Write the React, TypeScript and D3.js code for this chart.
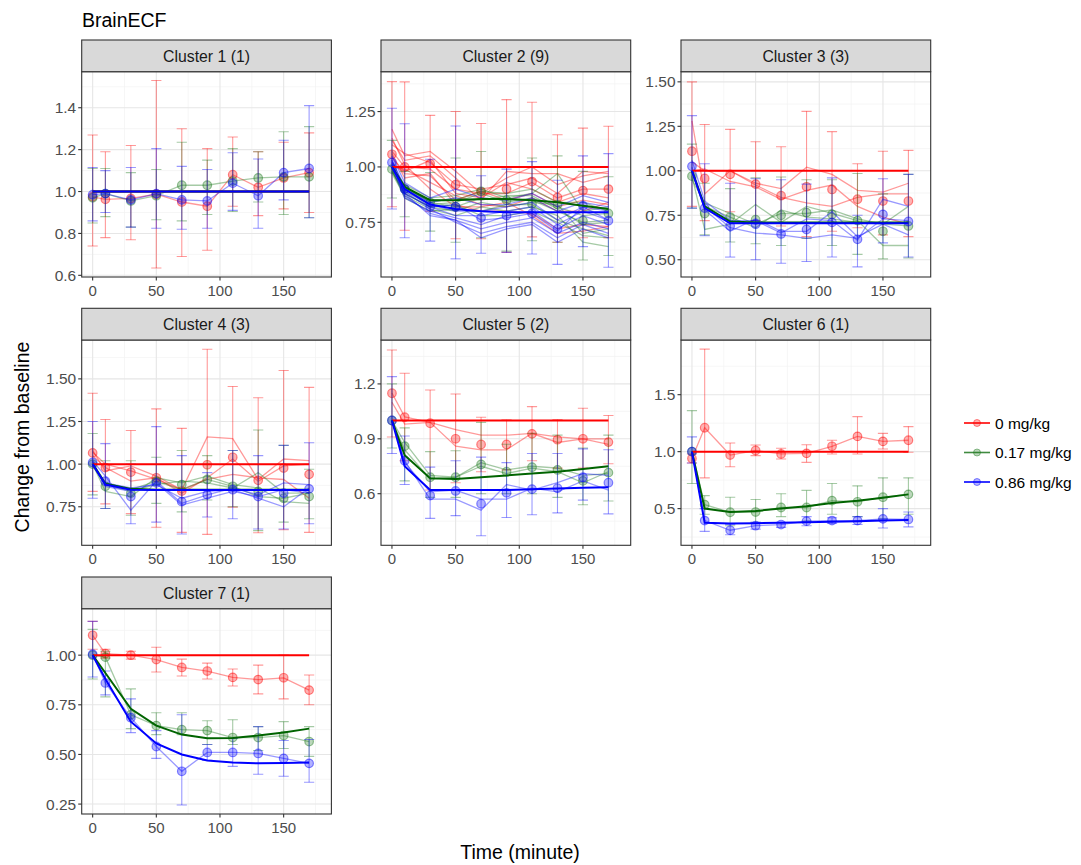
import React from "react";
import * as d3 from "d3";

// ---------------- DATA ----------------
const times = [0, 10, 30, 50, 70, 90, 110, 130, 150, 170];
const doses = ["0 mg/kg", "0.17 mg/kg", "0.86 mg/kg"];
const clusterTitles = [
  "Cluster 1 (1)", "Cluster 2 (9)", "Cluster 3 (3)", "Cluster 4 (3)",
  "Cluster 5 (2)", "Cluster 6 (1)", "Cluster 7 (1)",
];
const xTicks = [0, 50, 100, 150];
const xDomain = [-8.6, 187.5];

const yDomains = [
  [0.592, 1.572], [0.503, 1.43], [0.403, 1.557], [0.524, 1.728],
  [0.318, 1.44], [0.178, 1.98], [0.2, 1.234],
];
const yTicks = [
  [0.6, 0.8, 1.0, 1.2, 1.4],
  [0.75, 1.0, 1.25],
  [0.5, 0.75, 1.0, 1.25, 1.5],
  [0.75, 1.0, 1.25, 1.5],
  [0.6, 0.9, 1.2],
  [0.5, 1.0, 1.5],
  [0.25, 0.5, 0.75, 1.0],
];
const yDecimals = [1, 2, 2, 2, 1, 1, 2];

// Cluster 1 (rows: 0, 0.17, 0.86 mg/kg)
const c1Mean = [
  [0.975, 0.963, 0.967, 0.987, 0.95, 0.93, 1.08, 1.02, 1.065, 1.09],
  [0.97, 0.99, 0.955, 0.98, 1.03, 1.03, 1.05, 1.065, 1.07, 1.07],
  [0.985, 0.99, 0.96, 0.99, 0.96, 0.955, 1.04, 0.98, 1.09, 1.11],
];
const c1Lo = [
  [0.74, 0.78, 0.77, 0.635, 0.69, 0.72, 0.93, 0.885, 0.917, 0.9],
  [0.85, 0.88, 0.83, 0.865, 0.86, 0.89, 0.905, 0.95, 0.89, 0.875],
  [0.86, 0.9, 0.83, 0.825, 0.82, 0.825, 0.91, 0.825, 0.96, 0.875],
];
const c1Hi = [
  [1.27, 1.19, 1.22, 1.53, 1.3, 1.205, 1.26, 1.19, 1.235, 1.28],
  [1.11, 1.11, 1.09, 1.105, 1.235, 1.15, 1.205, 1.19, 1.285, 1.31],
  [1.115, 1.1, 1.115, 1.205, 1.12, 1.105, 1.185, 1.155, 1.245, 1.41],
];
const c1Lines = [[c1Mean[0]], [c1Mean[1]], [c1Mean[2]]];
const c1Fit = [
  [1, 1, 1, 1, 1, 1, 1, 1, 1, 1],
  [1, 1, 1, 1, 1, 1, 1, 1, 1, 1],
  [1, 1, 1, 1, 1, 1, 1, 1, 1, 1],
];

// Cluster 2
const c2Mean = [
  [1.057, 1.0, 1.015, 0.92, 0.887, 0.9, 0.934, 0.862, 0.893, 0.9],
  [0.99, 0.9, 0.84, 0.82, 0.89, 0.85, 0.833, 0.83, 0.757, 0.79],
  [1.02, 0.9, 0.82, 0.82, 0.77, 0.78, 0.79, 0.72, 0.825, 0.757],
];
const c2Lo = [
  [0.82, 0.714, 0.8, 0.676, 0.676, 0.614, 0.684, 0.66, 0.68, 0.68],
  [0.86, 0.775, 0.71, 0.66, 0.68, 0.62, 0.667, 0.66, 0.58, 0.6],
  [0.81, 0.68, 0.665, 0.585, 0.61, 0.614, 0.607, 0.56, 0.64, 0.547],
];
const c2Hi = [
  [1.385, 1.384, 1.233, 1.25, 1.196, 1.304, 1.292, 1.145, 1.175, 1.184],
  [1.12, 0.98, 0.975, 1.04, 1.07, 1.0, 1.04, 1.05, 0.98, 0.956],
  [1.265, 1.195, 1.035, 1.185, 0.96, 0.99, 1.024, 0.94, 1.05, 1.06],
];
const c2Lines = [
  [
    [1.17, 1.05, 1.07, 0.98, 0.88, 0.95, 1.0, 0.92, 0.96, 0.98],
    [1.12, 1.03, 1.05, 0.95, 0.85, 0.98, 0.97, 0.97, 0.93, 0.96],
    [1.1, 1.06, 1.02, 0.92, 0.9, 0.92, 0.95, 0.88, 0.98, 0.97],
    [1.07, 1.0, 0.99, 0.9, 0.88, 0.88, 0.93, 0.86, 0.9, 0.9],
    [1.04, 0.98, 1.03, 0.88, 0.86, 0.93, 0.9, 0.84, 0.88, 0.86],
    [1.02, 0.97, 0.96, 0.85, 0.89, 0.85, 0.88, 0.82, 0.85, 0.83],
    [1.0, 0.99, 0.93, 0.87, 0.83, 0.82, 0.86, 0.8, 0.8, 0.84],
    [1.06, 0.95, 0.97, 0.83, 0.8, 0.8, 0.79, 0.72, 0.74, 0.73],
    [1.13, 1.01, 0.9, 0.82, 0.82, 0.84, 0.78, 0.7, 0.71, 0.73],
  ],
  [
    [1.0, 0.92, 0.86, 0.87, 0.9, 0.86, 0.88, 0.97, 0.8, 0.82],
    [0.99, 0.9, 0.85, 0.85, 0.89, 0.88, 0.9, 0.84, 0.84, 0.8],
    [0.98, 0.89, 0.83, 0.84, 0.88, 0.84, 0.86, 0.82, 0.78, 0.79],
    [0.99, 0.91, 0.84, 0.82, 0.86, 0.85, 0.85, 0.8, 0.75, 0.76],
    [0.98, 0.88, 0.82, 0.8, 0.84, 0.82, 0.84, 0.83, 0.7, 0.72],
    [0.97, 0.87, 0.81, 0.78, 0.82, 0.8, 0.82, 0.78, 0.66, 0.64],
    [0.99, 0.86, 0.8, 0.81, 0.8, 0.83, 0.83, 0.76, 0.72, 0.69],
    [0.98, 0.88, 0.82, 0.83, 0.78, 0.78, 0.8, 0.75, 0.69, 0.68],
    [1.0, 0.9, 0.84, 0.86, 0.85, 0.87, 0.87, 0.81, 0.74, 0.75],
  ],
  [
    [1.05, 0.93, 0.86, 0.9, 0.86, 0.85, 0.88, 0.82, 0.87, 0.84],
    [1.03, 0.91, 0.84, 0.86, 0.83, 0.83, 0.86, 0.8, 0.84, 0.82],
    [1.02, 0.9, 0.83, 0.8, 0.8, 0.82, 0.84, 0.76, 0.82, 0.8],
    [1.01, 0.88, 0.82, 0.78, 0.78, 0.8, 0.82, 0.74, 0.8, 0.76],
    [1.0, 0.86, 0.8, 0.77, 0.74, 0.78, 0.8, 0.72, 0.78, 0.74],
    [1.02, 0.87, 0.79, 0.76, 0.72, 0.75, 0.77, 0.7, 0.75, 0.72],
    [1.01, 0.89, 0.81, 0.75, 0.7, 0.73, 0.75, 0.68, 0.74, 0.7],
    [1.0, 0.88, 0.78, 0.76, 0.68, 0.72, 0.74, 0.66, 0.72, 0.68],
    [1.03, 0.9, 0.82, 0.83, 0.76, 0.77, 0.79, 0.71, 0.82, 0.76],
  ],
];
const c2Fit = [
  [1, 1, 1, 1, 1, 1, 1, 1, 1, 1],
  [1.0, 0.91, 0.85, 0.85, 0.855, 0.855, 0.85, 0.84, 0.825, 0.81],
  [1.0, 0.9, 0.83, 0.81, 0.8, 0.795, 0.795, 0.795, 0.795, 0.795],
];

// Cluster 3
const c3Mean = [
  [1.11, 0.957, 0.98, 0.925, 0.86, 0.91, 0.895, 0.84, 0.83, 0.83],
  [0.97, 0.76, 0.74, 0.725, 0.75, 0.765, 0.755, 0.72, 0.66, 0.69],
  [1.025, 0.79, 0.69, 0.7, 0.645, 0.67, 0.71, 0.615, 0.755, 0.715],
];
const c3Lo = [
  [0.8, 0.72, 0.77, 0.72, 0.69, 0.63, 0.66, 0.68, 0.64, 0.63],
  [0.79, 0.64, 0.6, 0.59, 0.58, 0.62, 0.58, 0.53, 0.505, 0.51],
  [0.79, 0.635, 0.515, 0.5, 0.48, 0.49, 0.515, 0.46, 0.595, 0.515],
];
const c3Hi = [
  [1.5, 1.26, 1.233, 1.163, 1.135, 1.334, 1.22, 1.04, 1.11, 1.115],
  [1.15, 0.93, 0.9, 0.96, 0.965, 0.95, 0.95, 0.985, 0.87, 0.98],
  [1.31, 1.04, 0.93, 0.955, 0.95, 0.925, 0.96, 0.75, 0.955, 0.98],
];
const c3Lines = [
  [
    [1.28, 0.87, 1.0, 0.93, 0.9, 1.02, 0.98, 0.89, 0.88, 0.93],
    [1.05, 1.0, 1.0, 0.92, 0.85, 0.82, 0.8, 0.85, 0.87, 0.87],
    [1.0, 1.01, 0.94, 0.91, 0.84, 0.89, 0.92, 0.8, 0.74, 0.7],
  ],
  [
    [0.97, 0.67, 0.7, 0.81, 0.71, 0.8, 0.76, 0.72, 0.58, 0.58],
    [0.95, 0.82, 0.76, 0.7, 0.76, 0.76, 0.78, 0.73, 0.7, 0.8],
    [1.0, 0.8, 0.74, 0.68, 0.78, 0.74, 0.73, 0.71, 0.7, 0.69],
  ],
  [
    [1.06, 0.83, 0.72, 0.72, 0.65, 0.73, 0.72, 0.61, 0.84, 0.8],
    [1.02, 0.8, 0.68, 0.65, 0.64, 0.62, 0.64, 0.62, 0.73, 0.72],
    [1.0, 0.78, 0.66, 0.73, 0.66, 0.66, 0.77, 0.63, 0.7, 0.64],
  ],
];
const c3Fit = [
  [1, 1, 1, 1, 1, 1, 1, 1, 1, 1],
  [1.0, 0.8, 0.715, 0.71, 0.71, 0.71, 0.71, 0.71, 0.71, 0.71],
  [1.0, 0.79, 0.705, 0.705, 0.705, 0.705, 0.705, 0.705, 0.705, 0.705],
];

// Cluster 4
const c4Mean = [
  [1.066, 0.98, 0.953, 0.92, 0.842, 0.996, 1.04, 0.905, 0.977, 0.94],
  [1.0, 0.87, 0.83, 0.9, 0.88, 0.91, 0.87, 0.84, 0.8, 0.81],
  [1.01, 0.9, 0.81, 0.89, 0.78, 0.82, 0.85, 0.81, 0.83, 0.855],
];
const c4Lo = [
  [0.84, 0.767, 0.71, 0.63, 0.6, 0.588, 0.748, 0.598, 0.615, 0.6],
  [0.82, 0.74, 0.7, 0.77, 0.72, 0.79, 0.75, 0.61, 0.66, 0.68],
  [0.8, 0.74, 0.65, 0.66, 0.59, 0.69, 0.68, 0.62, 0.62, 0.65],
];
const c4Hi = [
  [1.416, 1.262, 1.197, 1.324, 1.21, 1.674, 1.455, 1.389, 1.549, 1.45],
  [1.18, 1.02, 1.02, 1.04, 1.08, 1.05, 1.08, 1.2, 1.11, 0.97],
  [1.25, 1.12, 1.0, 1.22, 1.05, 0.95, 1.08, 1.05, 1.11, 1.125],
];
const c4Lines = [
  [
    [1.07, 1.0, 0.96, 0.91, 0.85, 1.16, 1.15, 0.91, 1.03, 1.02],
    [1.05, 0.98, 0.9, 0.92, 0.83, 0.92, 1.03, 0.9, 0.99, 1.0],
    [1.08, 0.96, 0.99, 0.93, 0.85, 0.91, 0.94, 0.92, 0.91, 0.8],
  ],
  [
    [1.0, 0.84, 0.81, 0.92, 0.89, 0.93, 0.88, 0.86, 0.78, 0.77],
    [0.99, 0.88, 0.84, 0.88, 0.9, 0.89, 0.86, 0.95, 0.83, 0.83],
    [1.01, 0.89, 0.85, 0.9, 0.85, 0.91, 0.87, 0.81, 0.8, 0.83],
  ],
  [
    [1.02, 0.93, 0.73, 0.9, 0.77, 0.82, 0.86, 0.82, 0.89, 0.88],
    [1.0, 0.89, 0.86, 0.88, 0.8, 0.84, 0.85, 0.8, 0.75, 0.86],
    [1.01, 0.87, 0.84, 0.89, 0.76, 0.8, 0.84, 0.81, 0.85, 0.83],
  ],
];
const c4Fit = [
  [1, 1, 1, 1, 1, 1, 1, 1, 1, 1],
  [1.0, 0.885, 0.855, 0.85, 0.85, 0.85, 0.85, 0.85, 0.85, 0.85],
  [1.0, 0.88, 0.85, 0.848, 0.848, 0.848, 0.848, 0.848, 0.848, 0.848],
];

// Cluster 5
const c5Mean = [
  [1.149, 1.018, 0.985, 0.9, 0.869, 0.869, 0.927, 0.895, 0.9, 0.882],
  [1.0, 0.86, 0.69, 0.69, 0.76, 0.72, 0.745, 0.73, 0.67, 0.715],
  [1.0, 0.78, 0.59, 0.615, 0.545, 0.605, 0.625, 0.63, 0.69, 0.66],
];
const c5Lo = [
  [0.91, 0.78, 0.62, 0.66, 0.72, 0.73, 0.78, 0.74, 0.74, 0.764],
  [0.85, 0.67, 0.58, 0.58, 0.6, 0.6, 0.6, 0.58, 0.54, 0.56],
  [0.82, 0.65, 0.465, 0.48, 0.37, 0.47, 0.485, 0.495, 0.565, 0.49],
];
const c5Hi = [
  [1.385, 1.258, 1.167, 1.145, 1.018, 1.004, 1.076, 1.005, 1.067, 1.027],
  [1.2, 0.96, 0.83, 0.835, 0.99, 0.87, 0.93, 0.92, 0.85, 0.92],
  [1.24, 0.915, 0.745, 0.78, 0.8, 0.77, 0.82, 0.82, 0.845, 0.84],
];
const c5Lines = [
  [
    [1.15, 1.02, 0.99, 0.95, 0.92, 0.92, 0.93, 0.91, 0.9, 0.9],
    [1.1, 0.98, 0.99, 0.86, 0.84, 0.84, 0.93, 0.88, 0.9, 0.87],
  ],
  [
    [1.0, 0.88, 0.7, 0.69, 0.77, 0.73, 0.75, 0.74, 0.7, 0.71],
    [1.0, 0.84, 0.68, 0.69, 0.75, 0.71, 0.74, 0.72, 0.66, 0.72],
  ],
  [
    [1.0, 0.78, 0.57, 0.57, 0.51, 0.65, 0.62, 0.66, 0.71, 0.7],
    [1.0, 0.77, 0.61, 0.62, 0.57, 0.57, 0.63, 0.61, 0.67, 0.62],
  ],
];
const c5Fit = [
  [1, 1, 1, 1, 1, 1, 1, 1, 1, 1],
  [1.0, 0.81, 0.685, 0.68, 0.69, 0.7, 0.71, 0.72, 0.735, 0.75],
  [1.0, 0.75, 0.62, 0.62, 0.62, 0.62, 0.625, 0.628, 0.632, 0.635],
];

// Cluster 6
const c6Mean = [
  [0.94, 1.21, 0.97, 1.01, 0.98, 0.985, 1.047, 1.134, 1.09, 1.1],
  [1.0, 0.535, 0.468, 0.47, 0.51, 0.51, 0.57, 0.56, 0.6, 0.625],
  [1.0, 0.395, 0.31, 0.35, 0.36, 0.39, 0.395, 0.395, 0.41, 0.405],
];
const c6Lo = [
  [0.9, 0.77, 0.868, 0.965, 0.936, 0.906, 0.98, 0.98, 1.023, 0.995],
  [0.72, 0.45, 0.35, 0.38, 0.43, 0.39, 0.45, 0.43, 0.41, 0.45],
  [0.9, 0.3, 0.27, 0.32, 0.335, 0.35, 0.37, 0.36, 0.33, 0.34],
];
const c6Hi = [
  [0.98, 1.9, 1.076, 1.058, 1.03, 1.06, 1.1, 1.307, 1.16, 1.22],
  [1.36, 0.614, 0.6, 0.58, 0.63, 0.66, 0.72, 0.7, 0.77, 0.77],
  [1.13, 0.5, 0.36, 0.38, 0.38, 0.43, 0.42, 0.43, 0.5, 0.47],
];
const c6Lines = [[c6Mean[0]], [c6Mean[1]], [c6Mean[2]]];
const c6Fit = [
  [1, 1, 1, 1, 1, 1, 1, 1, 1, 1],
  [1.0, 0.5, 0.47, 0.48, 0.5, 0.52, 0.55, 0.57, 0.595, 0.625],
  [1.0, 0.375, 0.37, 0.372, 0.375, 0.38, 0.385, 0.39, 0.395, 0.4],
];

// Cluster 7
const c7Mean = [
  [1.1, 1.008, 1.0, 0.978, 0.938, 0.92, 0.888, 0.877, 0.886, 0.824],
  [1.0, 0.99, 0.7, 0.645, 0.625, 0.62, 0.585, 0.585, 0.595, 0.565],
  [1.005, 0.86, 0.685, 0.54, 0.415, 0.51, 0.51, 0.505, 0.48, 0.455],
];
const c7Lo = [
  [1.03, 0.985, 0.98, 0.915, 0.895, 0.88, 0.845, 0.805, 0.78, 0.75],
  [0.88, 0.79, 0.63, 0.6, 0.6, 0.55, 0.55, 0.52, 0.53, 0.49],
  [0.89, 0.8, 0.61, 0.48, 0.245, 0.47, 0.44, 0.4, 0.39, 0.36],
];
const c7Hi = [
  [1.17, 1.03, 1.02, 1.04, 0.98, 0.96, 0.93, 0.95, 1.0, 0.9],
  [1.13, 1.02, 0.83, 0.71, 0.71, 0.67, 0.675, 0.64, 0.665, 0.64],
  [1.17, 0.92, 0.78, 0.62, 0.7, 0.55, 0.58, 0.64, 0.57, 0.575],
];
const c7Lines = [[c7Mean[0]], [c7Mean[1]], [c7Mean[2]]];
const c7Fit = [
  [1, 1, 1, 1, 1, 1, 1, 1, 1, 1],
  [1.0, 0.91, 0.73, 0.645, 0.6, 0.582, 0.583, 0.595, 0.61, 0.63],
  [1.0, 0.88, 0.665, 0.555, 0.5, 0.47, 0.46, 0.455, 0.457, 0.46],
];

const clusterMeans = [c1Mean, c2Mean, c3Mean, c4Mean, c5Mean, c6Mean, c7Mean];
const clusterLo = [c1Lo, c2Lo, c3Lo, c4Lo, c5Lo, c6Lo, c7Lo];
const clusterHi = [c1Hi, c2Hi, c3Hi, c4Hi, c5Hi, c6Hi, c7Hi];
const clusterLines = [c1Lines, c2Lines, c3Lines, c4Lines, c5Lines, c6Lines, c7Lines];
const clusterFits = [c1Fit, c2Fit, c3Fit, c4Fit, c5Fit, c6Fit, c7Fit];

// ---------------- STYLE / LAYOUT ----------------
const FONT = "'Liberation Sans', Arial, Helvetica, sans-serif";
const faintColors = ["#FF0000", "#1E7B1E", "#0000FF"];
const fitColors = ["#FF0000", "#006400", "#0000FF"];
const colX = [81.7, 381, 681];
const rowTop = [40, 308.3, 577];
const panelW = 249.7;
const stripH = 31.7;
const plotH = 205.3;

function Panel({ idx }: { idx: number }) {
  const col = idx % 3;
  const row = Math.floor(idx / 3);
  const x0 = colX[col];
  const sTop = rowTop[row];
  const pTop = sTop + stripH;
  const pBot = pTop + plotH;
  const x = d3.scaleLinear().domain(xDomain).range([x0, x0 + panelW]);
  const y = d3.scaleLinear().domain(yDomains[idx]).range([pBot, pTop]);
  const ticks = yTicks[idx];
  const step = ticks[1] - ticks[0];
  const yMinor: number[] = [];
  for (let v = ticks[0] - step / 2; v <= yDomains[idx][1]; v += step) {
    if (v >= yDomains[idx][0]) yMinor.push(v);
  }
  const xMinor = [25, 75, 125, 175];
  const line = d3
    .line<number>()
    .x((_, i) => x(times[i]))
    .y((d) => y(d));
  const clipId = `clip${idx}`;
  const fmt = d3.format(`.${yDecimals[idx]}f`);
  const means = clusterMeans[idx];
  const lo = clusterLo[idx];
  const hi = clusterHi[idx];
  const lines = clusterLines[idx];
  const fits = clusterFits[idx];
  const capHalf = 4;

  return (
    <g>
      <defs>
        <clipPath id={clipId}>
          <rect x={x0} y={pTop} width={panelW} height={plotH} />
        </clipPath>
      </defs>
      <rect x={x0} y={pTop} width={panelW} height={plotH} fill="#fff" />
      {yMinor.map((v, i) => (
        <line key={"ym" + i} x1={x0} x2={x0 + panelW} y1={y(v)} y2={y(v)} stroke="#f2f2f2" strokeWidth={0.7} />
      ))}
      {xMinor.map((v, i) => (
        <line key={"xm" + i} x1={x(v)} x2={x(v)} y1={pTop} y2={pBot} stroke="#f2f2f2" strokeWidth={0.7} />
      ))}
      {ticks.map((v, i) => (
        <line key={"yM" + i} x1={x0} x2={x0 + panelW} y1={y(v)} y2={y(v)} stroke="#e6e6e6" strokeWidth={1.1} />
      ))}
      {xTicks.map((v, i) => (
        <line key={"xM" + i} x1={x(v)} x2={x(v)} y1={pTop} y2={pBot} stroke="#e6e6e6" strokeWidth={1.1} />
      ))}
      <g clipPath={`url(#${clipId})`}>
        {[0, 1, 2].map((d) => (
          <g key={"d" + d} stroke={faintColors[d]} strokeOpacity={0.4} fill="none">
            {lines[d].map((ln, j) => (
              <path key={"l" + j} d={line(ln) || ""} strokeWidth={1.3} />
            ))}
            {times.map((t, i) => (
              <g key={"e" + i} strokeWidth={1.1}>
                <line x1={x(t)} x2={x(t)} y1={y(lo[d][i])} y2={y(hi[d][i])} />
                <line x1={x(t - capHalf)} x2={x(t + capHalf)} y1={y(lo[d][i])} y2={y(lo[d][i])} />
                <line x1={x(t - capHalf)} x2={x(t + capHalf)} y1={y(hi[d][i])} y2={y(hi[d][i])} />
              </g>
            ))}
            {times.map((t, i) => (
              <circle key={"p" + i} cx={x(t)} cy={y(means[d][i])} r={4.3} fill={faintColors[d]} fillOpacity={0.3} strokeWidth={1.2} strokeOpacity={0.45} />
            ))}
          </g>
        ))}
        {[0, 1, 2].map((d) => (
          <path key={"f" + d} d={line(fits[d]) || ""} fill="none" stroke={fitColors[d]} strokeWidth={2} />
        ))}
      </g>
      <rect x={x0} y={pTop} width={panelW} height={plotH} fill="none" stroke="#333" strokeWidth={1.1} />
      {/* strip */}
      <rect x={x0} y={sTop} width={panelW} height={stripH} fill="#d9d9d9" stroke="#333" strokeWidth={1.1} />
      <text x={x0 + panelW / 2} y={sTop + stripH / 2 + 0.5} textAnchor="middle" dominantBaseline="central" fontSize={15.8} fill="#1a1a1a" fontFamily={FONT}>
        {clusterTitles[idx]}
      </text>
      {/* y axis */}
      {ticks.map((v, i) => (
        <g key={"yt" + i}>
          <line x1={x0 - 3.5} x2={x0} y1={y(v)} y2={y(v)} stroke="#333" strokeWidth={1.1} />
          <text x={x0 - 5.5} y={y(v)} textAnchor="end" dominantBaseline="central" fontSize={15.5} fill="#4d4d4d" fontFamily={FONT}>
            {fmt(v)}
          </text>
        </g>
      ))}
      {/* x axis */}
      {xTicks.map((v, i) => (
        <g key={"xt" + i}>
          <line x1={x(v)} x2={x(v)} y1={pBot} y2={pBot + 3.5} stroke="#333" strokeWidth={1.1} />
          <text x={x(v)} y={pBot + 13.5} textAnchor="middle" dominantBaseline="central" fontSize={15} fill="#4d4d4d" fontFamily={FONT}>
            {v}
          </text>
        </g>
      ))}
    </g>
  );
}

export default function App() {
  const legendY = [423, 452.5, 482];
  return (
    <svg width={1081} height={865} style={{ position: "absolute", left: 0, top: 0, background: "#fff" }} fontFamily={FONT}>
      <rect width={1081} height={865} fill="#fff" />
      <text x={82} y={27} fontSize={19.5} fill="#000" fontFamily={FONT}>BrainECF</text>
      {clusterTitles.map((_, i) => (
        <Panel key={i} idx={i} />
      ))}
      <text transform="translate(22,437) rotate(-90)" textAnchor="middle" dominantBaseline="central" fontSize={19.5} fill="#000" fontFamily={FONT}>
        Change from baseline
      </text>
      <text x={520} y={852} textAnchor="middle" dominantBaseline="central" fontSize={19.5} fill="#000" fontFamily={FONT}>
        Time (minute)
      </text>
      {doses.map((d, i) => (
        <g key={d}>
          <line x1={964} x2={990} y1={legendY[i]} y2={legendY[i]} stroke={fitColors[i]} strokeWidth={1.6} strokeOpacity={i === 1 ? 0.75 : 1} />
          <circle cx={977} cy={legendY[i]} r={3.5} fill={faintColors[i]} fillOpacity={0.3} stroke={faintColors[i]} strokeOpacity={0.45} />
          <text x={995} y={legendY[i]} dominantBaseline="central" fontSize={15.5} fill="#000" fontFamily={FONT}>
            {d}
          </text>
        </g>
      ))}
    </svg>
  );
}
